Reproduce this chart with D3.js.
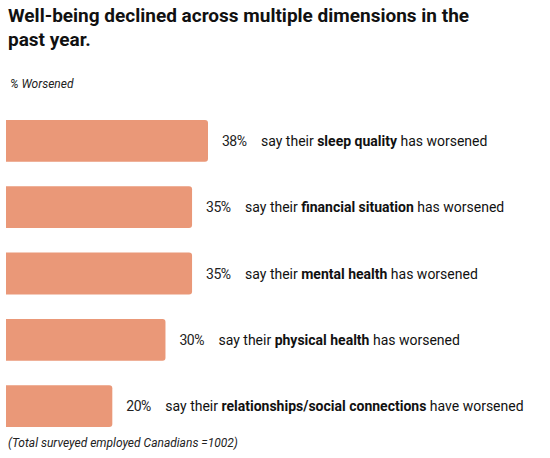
<!DOCTYPE html>
<html><head><meta charset="utf-8">
<script src="https://cdn.jsdelivr.net/npm/d3@7"></script>
<style>body{margin:0;background:#fff;font-family:Roboto,sans-serif}</style>
</head><body>
<svg id="chart" width="550" height="458"></svg>
<script>
const values=[38,35,35,30,20];
const pre=['say their ','say their ','say their ','say their ','say their '];
const bold=['sleep quality','financial situation','mental health','physical health','relationships/social connections'];
const post=[' has worsened',' has worsened',' has worsened',' has worsened',' have worsened'];

const svg=d3.select('#chart');
svg.append('text').attr('x',8).attr('y',22).attr('font-size',19).attr('font-weight','bold').attr('fill','#111')
    .text('Well-being declined across multiple dimensions in the');
svg.append('text').attr('x',8).attr('y',46).attr('font-size',19).attr('font-weight','bold').attr('fill','#111')
    .text('past year.');
svg.append('text').attr('x',10).attr('y',88).attr('font-size',12).attr('font-style','italic').attr('fill','#222')
    .text('% Worsened');

const x=d3.scaleLinear().domain([0,38]).range([6,208]);
const y=d3.scaleBand().domain(d3.range(values.length)).range([120,427]).paddingInner(0.37).paddingOuter(0);

const g=svg.selectAll('g.row').data(values).join('g').attr('class','row');
g.append('path')
    .attr('fill','#EA9878')
    .attr('d',(d,i)=>{
        const x0=x(0),x1=x(d),y0=y(i),h=y.bandwidth(),r=3;
        return `M${x0},${y0}H${x1-r}Q${x1},${y0} ${x1},${y0+r}V${y0+h-r}Q${x1},${y0+h} ${x1-r},${y0+h}H${x0}Z`;
    });
g.append('text').attr('x',d=>x(d)+14).attr('y',(d,i)=>y(i)+y.bandwidth()/2+5)
    .attr('font-size',14).attr('fill','#222').attr('letter-spacing',-0.5).text(d=>d+'%');
const t=g.append('text').attr('x',d=>x(d)+53).attr('y',(d,i)=>y(i)+y.bandwidth()/2+5)
    .attr('font-size',14).attr('fill','#111');
t.append('tspan').text((d,i)=>pre[i]);
t.append('tspan').attr('font-weight','bold').text((d,i)=>bold[i]);
t.append('tspan').text((d,i)=>post[i]);

svg.append('text').attr('x',8).attr('y',447).attr('font-size',12).attr('font-style','italic').attr('fill','#222')
    .text('(Total surveyed employed Canadians =1002)');
</script>
</body></html>
